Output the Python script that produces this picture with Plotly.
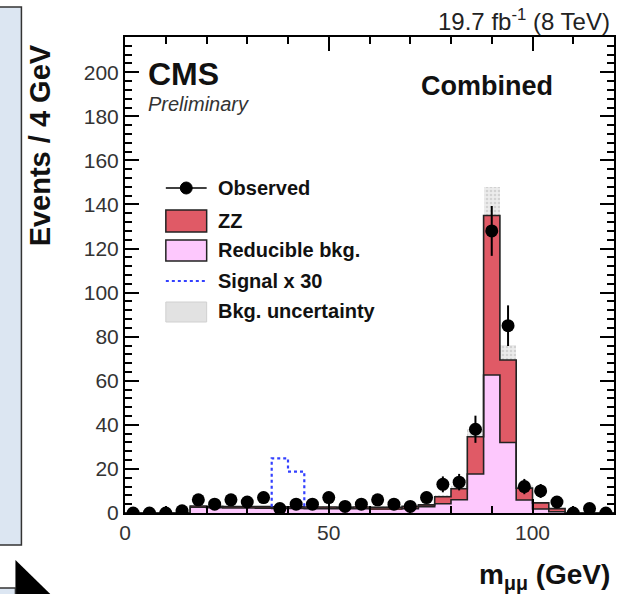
import numpy as np
import plotly.graph_objects as go

# ---------------- data ----------------
bin_centers = [2, 6, 10, 14, 18, 22, 26, 30, 34, 38, 42, 46, 50, 54, 58,
               62, 66, 70, 74, 78, 82, 86, 90, 94, 98, 102, 106, 110, 114, 118]
bin_width = 4
observed = [0, 0, 0, 1, 6, 4, 6, 5, 7, 2, 4, 4, 7, 3, 4,
            6, 4, 3, 7, 13, 14, 38, 128, 85, 12, 10, 5, 0, 2, 0]
reducible = [0, 0, 0, 0, 2.6, 2.4, 2.3, 2.3, 2.2, 2.1, 2.1, 2.0, 2.0, 1.9, 1.9,
             1.8, 1.8, 2.0, 2.9, 4.2, 6.0, 17.7, 62.6, 32.0, 5.9, 1.8, 0.6, 0, 0, 0]
zz = [0, 0, 0, 0, 0.6, 0.6, 0.6, 0.6, 0.7, 0.7, 0.7, 0.7, 0.7, 0.7, 0.8,
      0.8, 0.8, 1.0, 0.8, 3.2, 5.0, 16.9, 72.4, 37.4, 5.4, 2.8, 1.4, 0, 0, 0]
signal_x30 = [0, 0, 0, 0, 0, 0, 0, 0, 0, 22.0, 16.0, 0, 0, 0, 0,
              0, 0, 0, 0, 0, 0, 0, 0, 0, 0, 0, 0, 0, 0, 0]
bkg_unc = [0, 0, 0, 0, 0.3, 0.3, 0.3, 0.3, 0.3, 0.3, 0.3, 0.3, 0.3, 0.3, 0.3,
           0.3, 0.3, 0.3, 0.4, 0.8, 1.2, 3.5, 13.0, 7.0, 1.2, 0.5, 0.2, 0, 0, 0]

RED = "#e05a66"
PINK = "#fdc8fd"
BLUE = "#3340ff"
FONT = "Liberation Sans, Arial, Helvetica, sans-serif"

centers = np.array(bin_centers, dtype=float)
red_v = np.array(zz)
pink_v = np.array(reducible)
total = pink_v + red_v
unc = np.array(bkg_unc)
obs = np.array(observed, dtype=float)
sig = np.array(signal_x30)

edges = np.append(centers - bin_width / 2, centers[-1] + bin_width / 2)

fig = go.Figure()

# uncertainty band (behind the stack)
fig.add_trace(go.Bar(x=centers, y=2 * unc, base=total - unc, width=bin_width,
                     marker=dict(color="#e4e4e4", line=dict(width=0),
                                 pattern=dict(shape=".", fgcolor="#b8b8b8",
                                              bgcolor="#ececec", size=4, solidity=0.35))))
# reducible
fig.add_trace(go.Bar(x=centers, y=pink_v, base=0, width=bin_width,
                     marker=dict(color=PINK, line=dict(width=0))))
# ZZ stacked
fig.add_trace(go.Bar(x=centers, y=red_v, base=pink_v, width=bin_width,
                     marker=dict(color=RED, line=dict(width=0))))

# outlines (step)
fig.add_trace(go.Scatter(x=edges, y=np.append(pink_v, pink_v[-1]), mode="lines",
                         line=dict(shape="hv", color="#222222", width=1.6)))
fig.add_trace(go.Scatter(x=edges, y=np.append(total, total[-1]), mode="lines",
                         line=dict(shape="hv", color="#222222", width=1.6)))

# signal x30 stacked on background (only where signal present)
mask = sig > 0
idx = np.where(mask)[0]
lo, hi = idx[0], idx[-1]
sx = np.append(edges[lo:hi + 1], edges[hi + 1])
sy_top = total[lo:hi + 1] + sig[lo:hi + 1]
sx_full = np.concatenate([[edges[lo]], sx])
sy_full = np.concatenate([[total[lo]], sy_top, [total[hi]]])
fig.add_trace(go.Scatter(x=sx_full, y=sy_full, mode="lines",
                         line=dict(shape="hv", color=BLUE, width=2.2, dash="dot")))

# observed
err = np.sqrt(obs)
fig.add_trace(go.Scatter(x=centers, y=obs, mode="markers",
                         marker=dict(color="black", size=13, symbol="circle"),
                         error_y=dict(type="data", array=err, visible=True,
                                      color="black", thickness=2, width=0)))

# ---------------- layout ----------------
W, H = 619, 594
L, R, T, B = 125, 3, 37, 81
pw, ph = W - L - R, H - T - B


def X(px):
    return (px - L) / pw


def Y(py):
    return (H - B - py) / ph


shapes = []
annotations = []

# legend
leg_x0, leg_x1 = 166, 207
# Observed
shapes.append(dict(type="line", xref="paper", yref="paper", x0=X(leg_x0), x1=X(leg_x1),
                   y0=Y(188), y1=Y(188), line=dict(color="black", width=1.5)))
shapes.append(dict(type="circle", xref="paper", yref="paper", x0=X(180.5), x1=X(192.5),
                   y0=Y(182), y1=Y(194), fillcolor="black", line=dict(color="black", width=1)))
# ZZ
shapes.append(dict(type="rect", xref="paper", yref="paper", x0=X(leg_x0), x1=X(leg_x1),
                   y0=Y(210), y1=Y(232), fillcolor=RED, line=dict(color="#222", width=1.5)))
# Reducible
shapes.append(dict(type="rect", xref="paper", yref="paper", x0=X(leg_x0), x1=X(leg_x1),
                   y0=Y(240), y1=Y(261), fillcolor=PINK, line=dict(color="#222", width=1.5)))
# Signal
shapes.append(dict(type="line", xref="paper", yref="paper", x0=X(leg_x0), x1=X(leg_x1),
                   y0=Y(281), y1=Y(281), line=dict(color=BLUE, width=2, dash="dot")))
# Bkg uncertainty
shapes.append(dict(type="rect", xref="paper", yref="paper", x0=X(leg_x0), x1=X(leg_x1),
                   y0=Y(302), y1=Y(322), fillcolor="#e2e2e2", line=dict(color="#d0d0d0", width=1)))

leg_labels = ["Observed", "ZZ", "Reducible bkg.", "Signal x 30", "Bkg. uncertainty"]
leg_y = [188, 221, 250, 281, 311]
for lab, ly in zip(leg_labels, leg_y):
    annotations.append(dict(text="<b>%s</b>" % lab, x=X(216), y=Y(ly), xref="paper", yref="paper",
                            xanchor="left", yanchor="middle", showarrow=False,
                            font=dict(family=FONT, size=20, color="#111")))

# CMS labels
annotations.append(dict(text="<b>CMS</b>", x=X(146), y=Y(74), xref="paper", yref="paper",
                        xanchor="left", yanchor="middle", showarrow=False,
                        font=dict(family=FONT, size=32, color="#111")))
annotations.append(dict(text="<i>Preliminary</i>", x=X(146), y=Y(104), xref="paper", yref="paper",
                        xanchor="left", yanchor="middle", showarrow=False,
                        font=dict(family=FONT, size=20, color="#333")))
annotations.append(dict(text="<b>Combined</b>", x=X(488), y=Y(86), xref="paper", yref="paper",
                        xanchor="center", yanchor="middle", showarrow=False,
                        font=dict(family=FONT, size=27, color="#111")))
annotations.append(dict(text="19.7 fb<sup>-1</sup> (8 TeV)", x=X(614), y=Y(20), xref="paper",
                        yref="paper", xanchor="right", yanchor="middle", showarrow=False,
                        font=dict(family=FONT, size=24, color="#222")))
# axis titles
annotations.append(dict(text="<b>Events / 4 GeV</b>", x=X(40), y=Y(42), xref="paper", yref="paper",
                        xanchor="center", yanchor="top", textangle=-90, showarrow=False,
                        font=dict(family=FONT, size=29, color="#111")))
annotations.append(dict(text="<b>m<sub>μμ</sub> (GeV)</b>", x=X(614), y=Y(576), xref="paper",
                        yref="paper", xanchor="right", yanchor="middle", showarrow=False,
                        font=dict(family=FONT, size=28, color="#111")))

# slide artifacts on the left
shapes.append(dict(type="rect", xref="paper", yref="paper", x0=X(-3), x1=X(21),
                   y0=Y(7), y1=Y(545), fillcolor="#dce6f2", line=dict(color="#333", width=1.5)))
shapes.append(dict(type="path", xref="paper", yref="paper",
                   path="M %f,%f L %f,%f L %f,%f Z" % (X(15), Y(560), X(15), Y(596), X(52), Y(596)),
                   fillcolor="black", line=dict(color="black", width=0)))
shapes.append(dict(type="rect", xref="paper", yref="paper", x0=X(-3), x1=X(15),
                   y0=Y(588), y1=Y(597), fillcolor="#dce6f2", line=dict(color="#333", width=1.5)))

fig.update_layout(
    width=W, height=H, margin=dict(l=L, r=R, t=T, b=B),
    plot_bgcolor="white", paper_bgcolor="white", showlegend=False,
    barmode="overlay", bargap=0,
    shapes=shapes, annotations=annotations,
    font=dict(family=FONT),
)
fig.update_xaxes(range=[0, 120], tickvals=[0, 50, 100], ticks="inside", ticklen=14,
                 tickwidth=1.5, tickcolor="black", showline=True, linewidth=2, linecolor="black",
                 mirror="allticks", showgrid=False, zeroline=False,
                 tickfont=dict(family=FONT, size=21, color="#333"),
                 minor=dict(dtick=10, tick0=0, ticks="inside", ticklen=7, tickwidth=1.5,
                            tickcolor="black", showgrid=False))
fig.update_yaxes(range=[0, 216], tick0=0, dtick=20, ticks="inside", ticklen=14,
                 tickwidth=1.5, tickcolor="black", showline=True, linewidth=2, linecolor="black",
                 mirror="allticks", showgrid=False, zeroline=False,
                 tickfont=dict(family=FONT, size=21, color="#333"),
                 minor=dict(dtick=4, tick0=0, ticks="inside", ticklen=7, tickwidth=1.5,
                            tickcolor="black", showgrid=False))

fig.write_html("out.html")
